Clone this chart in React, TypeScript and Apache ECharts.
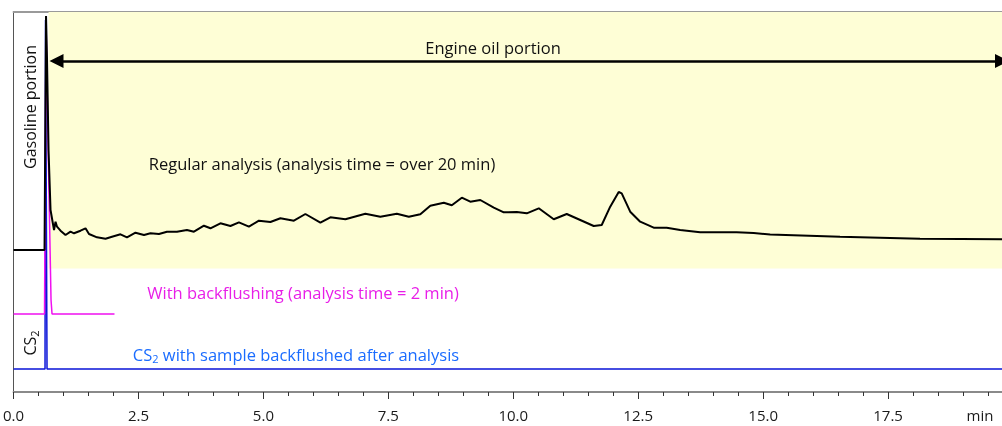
import React, { useEffect, useRef } from "react";
import * as echarts from "echarts";

// Time axis (min) and signals (arbitrary units above each trace's own baseline)
const blackTime = [0, 0.62, 0.65, 0.67, 0.7, 0.74, 0.81, 0.84, 0.87, 0.94, 1.04, 1.14, 1.21, 1.34, 1.44, 1.51, 1.67, 1.84, 1.97, 2.14, 2.27, 2.44, 2.61, 2.74, 2.91, 3.07, 3.27, 3.47, 3.61, 3.81, 3.94, 4.14, 4.34, 4.51, 4.71, 4.91, 5.14, 5.34, 5.61, 5.84, 6.14, 6.34, 6.64, 7.04, 7.34, 7.67, 7.91, 8.14, 8.34, 8.61, 8.77, 8.97, 9.14, 9.34, 9.61, 9.81, 10.07, 10.27, 10.51, 10.81, 11.07, 11.34, 11.61, 11.77, 11.94, 12.11, 12.17, 12.34, 12.54, 12.81, 13.07, 13.34, 13.74, 14.47, 14.81, 15.14, 16.54, 18.14, 19.78];
const blackSignal = [0, 0, 234, 190, 100, 40, 20, 28.3, 23.3, 19.3, 15, 18.3, 16.7, 19.3, 21.7, 16, 12.7, 11.3, 13.3, 15.7, 12.7, 17.3, 15, 16.7, 16, 18.3, 18.3, 20, 18.3, 24.3, 21.7, 26.7, 24, 27.7, 23.3, 29.3, 28, 31.7, 29.3, 36, 27.3, 32.7, 30.7, 36.3, 33.3, 36.3, 33.3, 35.7, 44.3, 47.3, 44.7, 52.3, 48.3, 50, 42.3, 37.7, 38, 36.7, 41.7, 30.7, 36, 30, 24, 25, 43.3, 58, 56.7, 38.3, 28.3, 22.3, 22.3, 20, 17.7, 17.7, 17, 15.5, 13.3, 11.3, 10.7];

const magentaTime = [0, 0.62, 0.65, 0.69, 0.75, 0.77, 2.02];
const magentaSignal = [0, 0, 294, 174, 14, 0, 0];

const blueTime = [0, 0.63, 0.64, 0.67, 19.78];
const blueSignal = [0, 0, 349, 0, 0];

// Vertical offsets of the stacked traces
const blackBaseline = 142;
const magentaBaseline = 78;
const blueBaseline = 23;

const xMin = 0;
const xMax = 19.78;
const xInterval = 2.5;
const yMax = 380;

const engineOilStart = 0.7;
const engineBandBottom = 123.5;
const arrowLevel = 331;
const arrowStart = 0.86;

const FONT = "Open Sans";

function pairs(t: number[], s: number[], base: number) {
  return t.map((v, i) => [v, s[i] + base]);
}

export default function App() {
  const ref = useRef<HTMLDivElement>(null);
  useEffect(() => {
    if (!ref.current) return;
    const chart = echarts.init(ref.current, null, { renderer: "svg" });
    const option: any = {
      animation: false,
      grid: { left: 13, right: 0, top: 12, bottom: 34 },
      xAxis: [
        {
          type: "value",
          min: xMin,
          max: xMax,
          interval: xInterval,
          axisLine: { show: true, lineStyle: { color: "#8a8a8a", width: 2 } },
          axisTick: { show: true, length: 7, lineStyle: { color: "#333", width: 1 } },
          minorTick: { show: true, splitNumber: 5, length: 4, lineStyle: { color: "#333", width: 1 } },
          splitLine: { show: false },
          axisLabel: {
            color: "#1a1a1a",
            fontFamily: FONT,
            fontSize: 15,
            margin: 15,
            showMaxLabel: false,
            formatter: (v: number) => v.toFixed(1),
          },
        },
        {
          type: "value",
          position: "top",
          min: xMin,
          max: xMax,
          axisLine: { show: true, lineStyle: { color: "#9a9a9a", width: 2 } },
          axisTick: { show: false },
          axisLabel: { show: false },
          splitLine: { show: false },
        },
      ],
      yAxis: {
        type: "value",
        min: 0,
        max: yMax,
        axisLine: { show: true, lineStyle: { color: "#555", width: 1 } },
        axisTick: { show: false },
        axisLabel: { show: false },
        splitLine: { show: false },
      },
      series: [
        {
          type: "line",
          name: "CS2",
          data: pairs(blueTime, blueSignal, blueBaseline),
          showSymbol: false,
          lineStyle: { color: "#0a14d8", width: 1.5 },
          z: 3,
        },
        {
          type: "line",
          name: "Backflush",
          data: pairs(magentaTime, magentaSignal, magentaBaseline),
          showSymbol: false,
          lineStyle: { color: "#f010f0", width: 1.5 },
          z: 4,
        },
        {
          type: "line",
          name: "Regular",
          data: pairs(blackTime, blackSignal, blackBaseline),
          showSymbol: false,
          lineStyle: { color: "#000", width: 2 },
          z: 5,
          markArea: {
            silent: true,
            itemStyle: { color: "#fefed6" },
            data: [[{ xAxis: engineOilStart, yAxis: engineBandBottom }, { xAxis: xMax, yAxis: yMax }]],
          },
        },
        {
          type: "line",
          name: "Arrow",
          data: [],
          z: 6,
          markLine: {
            silent: true,
            symbol: ["triangle", "triangle"],
            symbolSize: 14,
            label: { show: false },
            lineStyle: { color: "#000", width: 2.5, type: "solid" },
            data: [[{ coord: [arrowStart, arrowLevel] }, { coord: [xMax, arrowLevel] }]],
          },
        },
      ],
      graphic: [
        {
          type: "text",
          z: 100,
          x: 493,
          y: 47,
          style: { text: "Engine oil portion", fill: "#111", font: `16.5px '${FONT}'`, align: "center", verticalAlign: "middle" },
        },
        {
          type: "text",
          z: 100,
          x: 30,
          y: 107,
          rotation: Math.PI / 2,
          style: { text: "Gasoline portion", fill: "#111", font: `16px '${FONT}'`, align: "center", verticalAlign: "middle" },
        },
        {
          type: "text",
          z: 100,
          x: 30,
          y: 343,
          rotation: Math.PI / 2,
          style: {
            text: "{a|CS}{s|2}",
            align: "center",
            verticalAlign: "middle",
            rich: {
              a: { fontFamily: FONT, fontSize: 16, fill: "#111", color: "#111", lineHeight: 20 },
              s: { fontFamily: FONT, fontSize: 11, fill: "#111", color: "#111", lineHeight: 20, padding: [8, 0, 0, 0] },
            },
          },
        },
        {
          type: "text",
          z: 100,
          x: 322,
          y: 163,
          style: { text: "Regular analysis (analysis time = over 20 min)", fill: "#111", font: `16.5px '${FONT}'`, align: "center", verticalAlign: "middle" },
        },
        {
          type: "text",
          z: 100,
          x: 303,
          y: 292,
          style: { text: "With backflushing (analysis time = 2 min)", fill: "#e81ee8", font: `16.5px '${FONT}'`, align: "center", verticalAlign: "middle" },
        },
        {
          type: "text",
          z: 100,
          x: 296,
          y: 354,
          style: {
            text: "{a|CS}{s|2}{a| with sample backflushed after analysis}",
            align: "center",
            verticalAlign: "middle",
            rich: {
              a: { fontFamily: FONT, fontSize: 16.5, fill: "#1a6cff", color: "#1a6cff", lineHeight: 20 },
              s: { fontFamily: FONT, fontSize: 11, fill: "#1a6cff", color: "#1a6cff", lineHeight: 20, padding: [8, 0, 0, 0] },
            },
          },
        },
        {
          type: "text",
          z: 100,
          x: 980,
          y: 415,
          style: { text: "min", fill: "#1a1a1a", font: `15px '${FONT}'`, align: "center", verticalAlign: "middle" },
        },
      ],
    };
    chart.setOption(option);
    return () => chart.dispose();
  }, []);
  return <div ref={ref} style={{ position: "fixed", left: 0, top: 0, width: 1002, height: 426 }} />;
}
